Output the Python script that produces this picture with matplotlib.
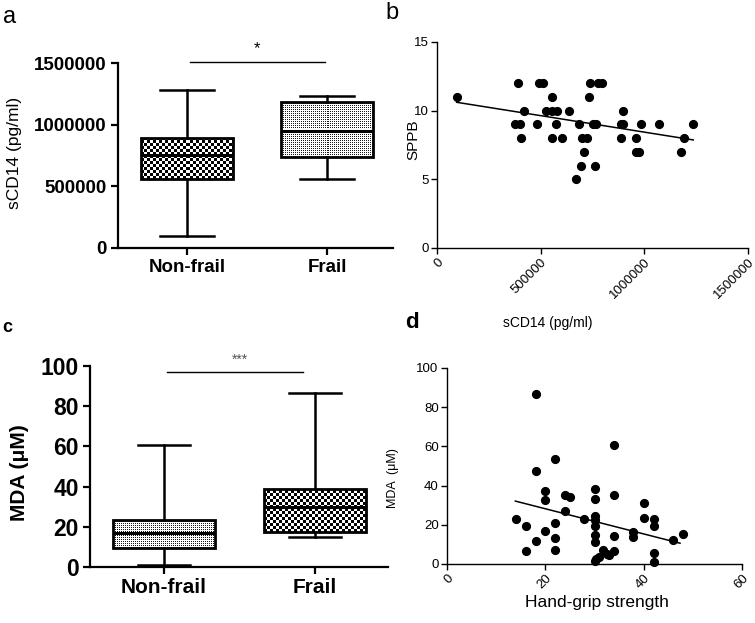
import numpy as np
import matplotlib
matplotlib.use('Agg')
import matplotlib.pyplot as plt

plt.rcParams['font.family'] = ['Liberation Sans', 'DejaVu Sans']

# ---- data ----
groups = ['Non-frail', 'Frail']

# panel a: sCD14 box stats (min, q1, median, q3, max)
a_lo = [100000, 560000]
a_q1 = [560000, 740000]
a_med = [750000, 950000]
a_q3 = [890000, 1180000]
a_hi = [1285000, 1235000]

# panel c: MDA box stats
c_lo = [1, 15]
c_q1 = [9.5, 17.3]
c_med = [17, 29.7]
c_q3 = [23.4, 38.6]
c_hi = [60.5, 86.4]

# panel b: sCD14 vs SPPB
b_x = [95000, 392000, 376000, 400000, 421000, 404000, 484000, 493000, 510000,
       526000, 553000, 577000, 556000, 572000, 553000, 603000, 638000, 669000,
       685000, 694000, 698000, 722000, 709000, 733000, 738000, 778000, 794000,
       754000, 768000, 762000, 899000, 886000, 899000, 887000, 982000, 960000,
       960000, 976000, 1072000, 1175000, 1193000, 1233000]
b_y = [11, 12, 9, 9, 10, 8, 9, 12, 12,
       10, 10, 10, 11, 9, 8, 8, 10, 5,
       9, 6, 8, 8, 7, 11, 12, 12, 12,
       9, 9, 6, 10, 9, 9, 8, 9, 8,
       7, 7, 9, 7, 8, 9]
b_fit_x = [95000, 1236000]
b_fit_y = [10.61, 7.87]

# panel d: hand-grip strength vs MDA
d_x = [14.0, 16.1, 16.1, 18.0, 18.0, 18.0, 20.0, 20.0, 20.0, 22.0, 22.0, 22.0,
       22.0, 24.1, 25.1, 24.1, 27.9, 30.0, 30.0, 30.0, 30.0, 30.0, 30.0, 30.0,
       30.0, 30.4, 31.0, 31.8, 32.5, 33.0, 33.9, 33.9, 33.9, 33.9, 37.9, 37.9,
       40.0, 40.0, 42.0, 42.0, 42.0, 42.0, 46.0, 48.0]
d_y = [23.0, 19.3, 6.5, 86.7, 47.3, 11.9, 37.5, 32.9, 16.7, 53.8, 20.8, 13.1,
       7.2, 35.3, 34.1, 26.9, 23.0, 38.4, 33.3, 24.7, 22.2, 19.3, 14.8, 11.1,
       1.7, 2.5, 3.4, 7.2, 5.1, 4.5, 6.5, 60.6, 35.3, 14.1, 16.2, 13.6,
       31.2, 23.4, 23.0, 19.6, 5.4, 1.2, 12.3, 15.4]
d_fit_x = [13.9, 47.4]
d_fit_y = [32.1, 10.6]

W, H = 755, 623
fig = plt.figure(figsize=(W / 100, H / 100), dpi=100)


def rect(l, t, r, b):
    return [l / W, 1 - b / H, (r - l) / W, (b - t) / H]


def ftext(x, y, s, **kw):
    fig.text(x / W, 1 - y / H, s, **kw)


def pattern_fill(ax, patch, kind):
    # fill a box with a checker / fine dot texture, clipped to the box
    v = patch.get_path().vertices
    x0, x1 = v[:, 0].min(), v[:, 0].max()
    y0, y1 = v[:, 1].min(), v[:, 1].max()
    p0 = ax.transData.transform((x0, y0))
    p1 = ax.transData.transform((x1, y1))
    w = max(int(round(p1[0] - p0[0])), 1)
    h = max(int(round(p1[1] - p0[1])), 1)
    i, j = np.mgrid[0:h, 0:w]
    if kind == 'check':
        arr = ((i // 3 + j // 3) % 2).astype(float)
    else:
        arr = 1.0 - ((i % 2 == 0) & (j % 2 == 0)) * 0.9
    im = ax.imshow(arr, extent=(x0, x1, y0, y1), cmap='gray', vmin=0, vmax=1,
                   interpolation='nearest', aspect='auto', zorder=1.5,
                   origin='lower')
    im.set_clip_path(patch)


def box_panel(ax, lo, q1, med, q3, hi, xlim, ylim, yticks, width, capw,
              kinds, fs):
    stats = []
    for k in range(len(groups)):
        stats.append({'whislo': lo[k], 'q1': q1[k], 'med': med[k],
                      'q3': q3[k], 'whishi': hi[k], 'fliers': [],
                      'label': groups[k]})
    res = ax.bxp(stats, positions=[0, 1], widths=width, capwidths=capw,
                 patch_artist=True, showfliers=False,
                 boxprops=dict(facecolor='none', edgecolor='black', linewidth=2.0),
                 medianprops=dict(color='black', linewidth=2.2),
                 whiskerprops=dict(color='black', linewidth=1.8),
                 capprops=dict(color='black', linewidth=1.8))
    ax.set_xlim(*xlim)
    ax.set_ylim(*ylim)
    for b, kind in zip(res['boxes'], kinds):
        pattern_fill(ax, b, kind)
    ax.set_xlim(*xlim)
    ax.set_ylim(*ylim)
    for ln in res['caps'] + res['whiskers']:
        ln.set_clip_on(False)
    ax.spines['top'].set_visible(False)
    ax.spines['right'].set_visible(False)
    ax.spines['left'].set_linewidth(1.6)
    ax.spines['bottom'].set_linewidth(1.6)
    ax.set_yticks(yticks)
    ax.set_yticklabels([str(t) for t in yticks])
    ax.set_xticks([0, 1])
    ax.set_xticklabels(groups)
    ax.tick_params(direction='out', length=5, width=1.6, labelsize=fs, pad=3)
    for t in ax.get_xticklabels() + ax.get_yticklabels():
        t.set_fontweight('bold')


# ---- panel a ----
ax_a = fig.add_axes(rect(118, 63, 393, 248))
box_panel(ax_a, a_lo, a_q1, a_med, a_q3, a_hi, (-0.493, 1.471), (0, 1500000),
          [0, 500000, 1000000, 1500000], 0.66, 0.38, ['check', 'fine'], 13.5)
ax_a.plot([0.02, 0.986], [1508000, 1508000], color='black', lw=1.0, clip_on=False)
ax_a.text(0.5, 1555000, '*', ha='center', va='bottom', fontsize=12, clip_on=False)

# ---- panel c ----
ax_c = fig.add_axes(rect(90, 366, 388, 567))
box_panel(ax_c, c_lo, c_q1, c_med, c_q3, c_hi, (-0.49, 1.483), (0, 100),
          [0, 20, 40, 60, 80, 100], 0.68, 0.35, ['fine', 'check'], 15)
for t in ax_c.get_yticklabels():
    t.set_fontsize(16.5)
ax_c.plot([0.02, 0.92], [97, 97], color='black', lw=1.0, clip_on=False)
ax_c.text(0.5, 99.5, '***', ha='center', va='bottom', fontsize=10,
          color='#555555', clip_on=False)


def scatter_panel(ax, x, y, fx, fy, xlim, ylim, xticks, yticks):
    ax.plot(x, y, 'o', color='black', ms=5.6, clip_on=False)
    ax.plot(fx, fy, color='black', lw=1.1)
    ax.set_xlim(*xlim)
    ax.set_ylim(*ylim)
    ax.spines['top'].set_visible(False)
    ax.spines['right'].set_visible(False)
    ax.spines['left'].set_linewidth(1.0)
    ax.spines['bottom'].set_linewidth(1.0)
    ax.set_xticks(xticks)
    ax.set_xticklabels([str(t) for t in xticks], rotation=45, ha='right',
                       va='top', rotation_mode='anchor')
    ax.set_yticks(yticks)
    ax.set_yticklabels([str(t) for t in yticks])
    ax.tick_params(direction='out', length=4, width=1.0, labelsize=9.5, pad=2)


# ---- panel b ----
ax_b = fig.add_axes(rect(437, 42, 748, 248))
scatter_panel(ax_b, b_x, b_y, b_fit_x, b_fit_y, (0, 1500000), (0, 15),
              [0, 500000, 1000000, 1500000], [0, 5, 10, 15])

# ---- panel d ----
ax_d = fig.add_axes(rect(447, 368, 742, 564))
scatter_panel(ax_d, d_x, d_y, d_fit_x, d_fit_y, (0, 60), (0, 100),
              [0, 20, 40, 60], [0, 20, 40, 60, 80, 100])

# ---- axis titles and panel letters ----
ftext(14, 153, 'sCD14 (pg/ml)', rotation=90, ha='center', va='center', fontsize=12.5)
ftext(20, 473, 'MDA (\u03bcM)', rotation=90, ha='center', va='center',
      fontsize=15, fontweight='bold')
ftext(413, 140, 'SPPB', rotation=90, ha='center', va='center', fontsize=11)
ftext(548, 323, 'sCD14 (pg/ml)', ha='center', va='center', fontsize=10)
ftext(393, 478, 'MDA  (\u03bcM)', rotation=90, ha='center', va='center', fontsize=9)
ftext(597, 603, 'Hand-grip strength', ha='center', va='center', fontsize=12.5)

ftext(3, 17, 'a', ha='left', va='center', fontsize=17)
ftext(385, 13, 'b', ha='left', va='center', fontsize=17)
ftext(2, 328, 'c', ha='left', va='center', fontsize=13, fontweight='bold')
ftext(405, 323, 'd', ha='left', va='center', fontsize=16, fontweight='bold')

fig.savefig('out.png', dpi=100)
